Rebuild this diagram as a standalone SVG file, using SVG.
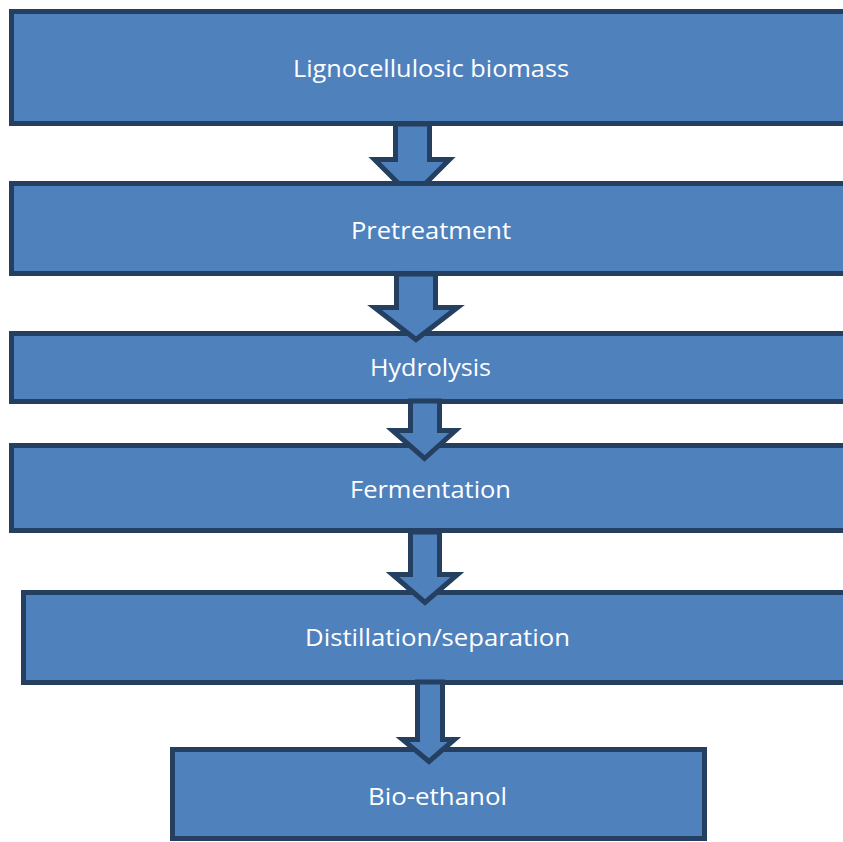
<svg xmlns="http://www.w3.org/2000/svg" width="843" height="842" viewBox="0 0 843 842">
<style>
.box{fill:#4F81BD;stroke:#243F60;stroke-width:5}
.arr{fill:#4F81BD;stroke:#243F60;stroke-width:5;stroke-linejoin:miter}
.lbl{font-family:"Open Sans","Liberation Sans",sans-serif;font-size:23.5px;fill:#FFFFFF;text-anchor:middle}
</style>
<rect width="843" height="842" fill="#FFFFFF"/>
<g id="connectors">
<polygon id="a1" class="arr" points="395.5,124 429.5,124 429.5,159.5 449.5,159.5 412,197 374.5,159.5 395.5,159.5"/>
</g>
<g id="n1"><rect class="box" x="11.5" y="11.5" width="840" height="112"/><text class="lbl" x="431" y="77" textLength="276" lengthAdjust="spacingAndGlyphs">Lignocellulosic biomass</text></g>
<g id="n2"><rect class="box" x="11.5" y="183.5" width="840" height="90"/><text class="lbl" x="431" y="239" textLength="160" lengthAdjust="spacingAndGlyphs">Pretreatment</text></g>
<g id="n3"><rect class="box" x="11.5" y="333.5" width="840" height="68"/><text class="lbl" x="430.5" y="376" textLength="121" lengthAdjust="spacingAndGlyphs">Hydrolysis</text></g>
<g id="n4"><rect class="box" x="11.5" y="445.5" width="840" height="85"/><text class="lbl" x="430.5" y="498" textLength="161" lengthAdjust="spacingAndGlyphs">Fermentation</text></g>
<g id="n5"><rect class="box" x="23.5" y="592.5" width="830" height="90"/><text class="lbl" x="437.5" y="646" textLength="265" lengthAdjust="spacingAndGlyphs">Distillation/separation</text></g>
<g id="n6"><rect class="box" x="172.5" y="749.5" width="532" height="89"/><text class="lbl" x="437.5" y="805" textLength="139" lengthAdjust="spacingAndGlyphs">Bio-ethanol</text></g>
<g id="connectors-top">
<polygon id="a2" class="arr" points="396.5,274 435.5,274 435.5,307.5 457.5,307.5 416,339.5 374.5,307.5 396.5,307.5"/>
<polygon id="a3" class="arr" points="410.5,401 439.5,401 439.5,430.5 455.5,430.5 424.5,458.5 392.5,430.5 410.5,430.5"/>
<polygon id="a4" class="arr" points="410.5,532 439.5,532 439.5,574.5 457.5,574.5 425,602.5 392.5,574.5 410.5,574.5"/>
<polygon id="a5" class="arr" points="417.5,682 442.5,682 442.5,739.5 454.5,739.5 429,761.5 402.5,739.5 417.5,739.5"/>
</g>
</svg>
